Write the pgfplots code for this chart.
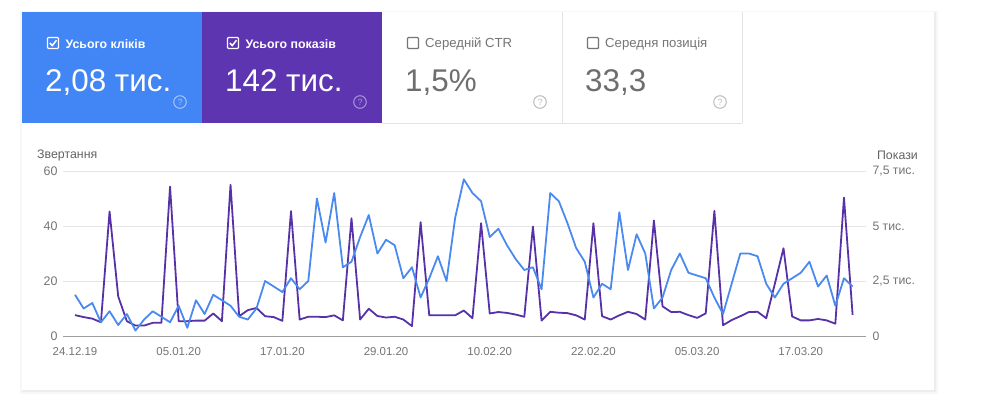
\documentclass[border=0pt]{standalone}
\usepackage{pgfplots}
\pgfplotsset{compat=1.18}
\usepackage{fontspec}
\setmainfont{Liberation Sans}
\definecolor{gblue}{HTML}{4285F4}
\definecolor{gpurple}{HTML}{5E35B1}
\definecolor{lineblue}{HTML}{4A8AF0}
\definecolor{linepurple}{HTML}{5631A8}
\definecolor{txtgray}{HTML}{757575}
\definecolor{bigray}{HTML}{6E6E6E}
\definecolor{gridgray}{HTML}{E6E6E6}
\definecolor{basegray}{HTML}{9E9E9E}
\definecolor{qblue}{HTML}{A6C4FA}
\definecolor{qpurple}{HTML}{A994D6}
\definecolor{qgray}{HTML}{BDBDBD}
\definecolor{sep}{HTML}{E3E3E3}
\begin{document}
\begin{tikzpicture}
\begin{scope}[x=1bp,y=-1bp]
\fill[white] (0,0) rectangle (1001,399);
% card shadow
\fill[black!3] (20,11) rectangle (938,394);
\fill[black!7] (21.5,12) rectangle (936,392);
\fill[white] (22,12) rectangle (934,390);
% tiles
\fill[gblue] (22,12) rectangle (202,123);
\fill[gpurple] (202,12) rectangle (382,123);
\draw[sep, line width=0.8] (562,12) -- (562,123);
\draw[sep, line width=0.8] (742,12) -- (742,123);
\draw[sep, line width=0.8] (382,123) -- (742,123);
% checkboxes
\draw[white, line width=1.4, rounded corners=1] (47.5,37.5) rectangle (58.5,48.5);
\draw[white, line width=1.5] (49.8,43) -- (52.3,45.6) -- (56.5,40.2);
\draw[white, line width=1.4, rounded corners=1] (227.5,37.5) rectangle (238.5,48.5);
\draw[white, line width=1.5] (229.8,43) -- (232.3,45.6) -- (236.5,40.2);
\draw[txtgray, line width=1.4, rounded corners=1] (407.5,37.5) rectangle (418.5,48.5);
\draw[txtgray, line width=1.4, rounded corners=1] (587.5,37.5) rectangle (598.5,48.5);
% tile titles
\node[anchor=west, inner sep=0, text=white, font=\bfseries\fontsize{12.4}{12.4}\selectfont] at (65.5,44) {Усього кліків};
\node[anchor=west, inner sep=0, text=white, font=\bfseries\fontsize{12.4}{12.4}\selectfont] at (245.5,44) {Усього показів};
\node[anchor=west, inner sep=0, text=txtgray, font=\fontsize{13.2}{13.2}\selectfont] at (425,44) {Середній CTR};
\node[anchor=west, inner sep=0, text=txtgray, font=\fontsize{13.2}{13.2}\selectfont] at (605,44) {Середня позиція};
% big numbers
\node[anchor=base west, inner sep=0, text=white, font=\fontsize{31.5}{31.5}\selectfont] at (45,91) {2,08 тис.};
\node[anchor=base west, inner sep=0, text=white, font=\fontsize{31.5}{31.5}\selectfont] at (225,91) {142 тис.};
\node[anchor=base west, inner sep=0, text=bigray, font=\fontsize{31.5}{31.5}\selectfont] at (405,91) {1,5\%};
\node[anchor=base west, inner sep=0, text=bigray, font=\fontsize{31.5}{31.5}\selectfont] at (585,91) {33,3};
% help icons
\foreach \cx/\cc in {180/qblue,360/qpurple,540/qgray,720/qgray}{
  \draw[\cc, line width=1] (\cx,102) circle (6.3);
  \node[text=\cc, inner sep=0, font=\fontsize{9}{9}\selectfont] at (\cx,102.3) {?};
}
% axis titles
\node[anchor=west, inner sep=0, text=txtgray!85!black, font=\fontsize{12.4}{12.4}\selectfont] at (37,155) {Звертання};
\node[anchor=east, inner sep=0, text=txtgray!85!black, font=\fontsize{12.4}{12.4}\selectfont] at (918,155) {Покази};
\end{scope}

\begin{axis}[at={(63bp,-336bp)}, anchor=south west, scale only axis,
  width=803bp, height=165bp,
  xmin=-1.39, xmax=91.55, ymin=0, ymax=7500,
  axis x line=none, axis y line*=right,
  y axis line style={draw=none}, major tick length=0,
  ytick={0,2500,5000,7500},
  yticklabels={0,{2,5 тис.},{5 тис.},{7,5 тис.}},
  yticklabel style={font=\fontsize{12.3}{12.3}\selectfont, text=txtgray, anchor=west, xshift=3bp},
  ymajorgrids, grid style={gridgray, line width=0.8},
  clip=false]
\draw[basegray, line width=0.9] (axis cs:-1.39,0) -- (axis cs:91.55,0);
\addplot[linepurple, line width=1.8, mark=none, line join=round] coordinates {
(0,950)(1,860)(2,790)(3,625)(4,5660)(5,1800)(6,675)(7,475)(8,475)(9,600)
(10,600)(11,6790)(12,675)(13,675)(14,700)(15,700)(16,1025)(17,675)(18,6875)(19,900)
(20,1175)(21,1275)(22,900)(23,860)(24,690)(25,5675)(26,750)(27,875)(28,875)(29,860)
(30,940)(31,710)(32,5350)(33,750)(34,1240)(35,910)(36,840)(37,875)(38,750)(39,450)
(40,5175)(41,940)(42,940)(43,940)(44,940)(45,1160)(46,810)(47,5125)(48,1025)(49,1090)
(50,1050)(51,975)(52,875)(53,4975)(54,700)(55,1100)(56,1060)(57,1040)(58,940)(59,750)
(60,5125)(61,900)(62,750)(63,940)(64,1100)(65,1000)(66,750)(67,5250)(68,1350)(69,1090)
(70,1100)(71,950)(72,825)(73,1025)(74,5690)(75,490)(76,725)(77,900)(78,1090)(79,1100)
(80,810)(81,2375)(82,3990)(83,890)(84,710)(85,710)(86,775)(87,710)(88,560)(89,6290)
(90,960)};
\end{axis}

\begin{axis}[at={(63bp,-336bp)}, anchor=south west, scale only axis,
  width=803bp, height=165bp,
  xmin=-1.39, xmax=91.55, ymin=0, ymax=60,
  axis x line*=bottom, axis y line*=left,
  axis line style={draw=none}, major tick length=0,
  ytick={0,20,40,60}, yticklabels={0,20,40,60},
  yticklabel style={font=\fontsize{12.5}{12.5}\selectfont, text=txtgray, anchor=east, xshift=-2bp},
  xtick={0,12,24,36,48,60,72,84},
  xticklabels={24.12.19,05.01.20,17.01.20,29.01.20,10.02.20,22.02.20,05.03.20,17.03.20},
  xticklabel style={font=\fontsize{11.5}{11.5}\selectfont, text=txtgray, yshift=-8bp},
  clip=false]
\addplot[lineblue, line width=1.8, mark=none, line join=round] coordinates {
(0,15)(1,10)(2,12)(3,5)(4,9)(5,4)(6,8)(7,2)(8,6)(9,9)
(10,7)(11,5)(12,11)(13,3)(14,13)(15,8)(16,15)(17,13)(18,11)(19,7)
(20,6)(21,10)(22,20)(23,18)(24,16)(25,21)(26,17)(27,20)(28,50)(29,34)
(30,52)(31,25)(32,27)(33,36)(34,44)(35,30)(36,35)(37,33)(38,21)(39,25)
(40,14)(41,21)(42,29)(43,20)(44,43)(45,57)(46,52)(47,49)(48,36)(49,39)
(50,33)(51,28)(52,24)(53,25)(54,17)(55,52)(56,49)(57,41)(58,32)(59,27)
(60,14)(61,19)(62,17)(63,45)(64,24)(65,37)(66,30)(67,10)(68,14)(69,24)
(70,30)(71,23)(72,22)(73,21)(74,14)(75,8)(76,19)(77,30)(78,30)(79,29)
(80,19)(81,14)(82,19)(83,21)(84,23)(85,27)(86,18)(87,22)(88,11)(89,21)
(90,18)};
\end{axis}
\end{tikzpicture}
\end{document}
